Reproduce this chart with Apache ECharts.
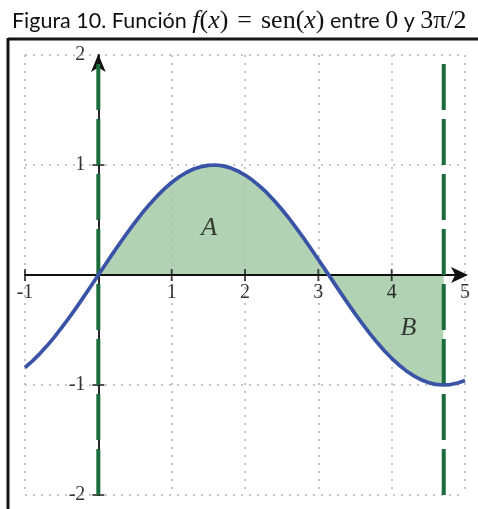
<!DOCTYPE html>
<html>
<head>
<meta charset="utf-8">
<script src="https://cdn.jsdelivr.net/npm/echarts@6/dist/echarts.min.js"></script>
<style>
  html, body { margin: 0; padding: 0; background: #fff; }
  #chart { width: 478px; height: 509px; }
</style>
</head>
<body>
<div id="chart"></div>
<script>
// f(x) = sen(x), sampled every 0.1 between -1 and 5 (plus the limit 3π/2)
const curveX = [
  -1, -0.9, -0.8, -0.7, -0.6, -0.5, -0.4, -0.3, -0.2, -0.1,
  0, 0.1, 0.2, 0.3, 0.4, 0.5, 0.6, 0.7, 0.8, 0.9,
  1, 1.1, 1.2, 1.3, 1.4, 1.5, 1.6, 1.7, 1.8, 1.9,
  2, 2.1, 2.2, 2.3, 2.4, 2.5, 2.6, 2.7, 2.8, 2.9,
  3, 3.1, 3.2, 3.3, 3.4, 3.5, 3.6, 3.7, 3.8, 3.9,
  4, 4.1, 4.2, 4.3, 4.4, 4.5, 4.6, 4.7, 4.71, 4.8, 4.9, 5
];
const curveY = [
  -0.841, -0.783, -0.717, -0.644, -0.565, -0.479, -0.389, -0.296, -0.199, -0.100,
  0, 0.100, 0.199, 0.296, 0.389, 0.479, 0.565, 0.644, 0.717, 0.783,
  0.841, 0.891, 0.932, 0.964, 0.985, 0.997, 1.000, 0.992, 0.974, 0.946,
  0.909, 0.863, 0.808, 0.746, 0.675, 0.598, 0.516, 0.427, 0.335, 0.239,
  0.141, 0.042, -0.058, -0.158, -0.256, -0.351, -0.443, -0.530, -0.612, -0.688,
  -0.757, -0.818, -0.872, -0.916, -0.952, -0.978, -0.994, -1.000, -1.000, -0.996, -0.982, -0.959
];

// integration limits: 0 and 3π/2
const limits = [0, 4.71];

// axis ticks and their labels
const xTicks = [-1, 1, 2, 3, 4];
const yTicks = [1, -1, -2];
const xTickLabels = [-1, 1, 2, 3, 4, 5];
const yTickLabels = [2, 1, -1, -2];

// region labels
const regionNames = ['A', 'B'];
const regionPos = [[1.51, 0.43], [4.23, -0.48]];

const serif = '"Liberation Serif", "DejaVu Serif", serif';
const sans = 'Lato, "Open Sans", sans-serif';
const ink = '#111111';

const curve = curveX.map((x, i) => [x, curveY[i]]);
const filled = curve.filter(p => p[0] >= limits[0] && p[0] <= limits[1]);

const chart = echarts.init(document.getElementById('chart'), null, { renderer: 'canvas' });

const dotted = { color: '#b5b5b5', width: 1.6, type: [2, 6] };
const mathStyle = { fontFamily: serif, fontSize: 26, fontWeight: 'normal', color: ink };

chart.setOption({
  animation: false,
  backgroundColor: '#ffffff',
  title: {
    left: 7,
    top: 3,
    text: '{s|Figura 10. Función }{i|f}{m|(}{i|x}{m|)}{e|=}{m|sen(}{i|x}{m|)}{s| entre }{m|0}{s| y }{m|3π/2}',
    textStyle: {
      rich: {
        s: { fontFamily: sans, fontSize: 21.5, fontWeight: 'normal', color: ink },
        m: mathStyle,
        e: Object.assign({}, mathStyle, { padding: [0, 9, 0, 9] }),
        i: Object.assign({}, mathStyle, { fontStyle: 'italic' })
      }
    }
  },
  graphic: [
    { type: 'line', z: 10, shape: { x1: 8, y1: 39, x2: 478, y2: 39 }, style: { stroke: '#151515', lineWidth: 3 } },
    { type: 'line', z: 10, shape: { x1: 8, y1: 38, x2: 8, y2: 509 }, style: { stroke: '#151515', lineWidth: 3 } }
  ],
  grid: { left: 25, right: 13, top: 55, bottom: 14, containLabel: false, outerBoundsMode: 'none' },
  xAxis: {
    type: 'value',
    min: -1, max: 5, interval: 1,
    z: 1,
    axisLine: {
      onZero: true,
      symbol: ['none', 'arrow'],
      symbolSize: [12, 17],
      symbolOffset: [0, 3],
      lineStyle: { color: '#111', width: 1.8 }
    },
    axisTick: { show: false },
    axisLabel: { show: false },
    splitLine: { show: true, lineStyle: dotted }
  },
  yAxis: {
    type: 'value',
    min: -2, max: 2, interval: 1,
    z: 1,
    axisLine: {
      onZero: true,
      symbol: ['none', 'arrow'],
      symbolSize: [11, 18],
      symbolOffset: [0, 1],
      lineStyle: { color: '#111', width: 1.8 }
    },
    axisTick: { show: false },
    axisLabel: { show: false },
    splitLine: { show: true, lineStyle: dotted }
  },
  series: [
    {
      name: 'area',
      type: 'line',
      z: 0,
      data: filled,
      symbol: 'none',
      lineStyle: { width: 0, opacity: 0 },
      areaStyle: { color: '#b2d3b3', opacity: 1 },
      silent: true
    },
    {
      name: 'ticks-x',
      type: 'scatter',
      z: 2,
      data: xTicks.map(x => [x, 0]),
      symbol: 'rect',
      symbolSize: [1.8, 12],
      itemStyle: { color: '#111' },
      silent: true
    },
    {
      name: 'ticks-y',
      type: 'scatter',
      z: 2,
      data: yTicks.map(y => [0, y]),
      symbol: 'rect',
      symbolSize: [12, 1.8],
      itemStyle: { color: '#111' },
      silent: true
    },
    {
      name: 'labels-x',
      type: 'scatter',
      z: 6,
      data: xTickLabels.map(v => [v, 0]),
      symbolSize: 0,
      label: {
        show: true, position: 'bottom', distance: 8,
        formatter: p => String(p.value[0]),
        fontFamily: serif, fontSize: 20, color: '#000'
      },
      silent: true
    },
    {
      name: 'labels-y',
      type: 'scatter',
      z: 6,
      data: yTickLabels.map(v => [0, v]),
      symbolSize: 0,
      label: {
        show: true, position: 'left', distance: 13,
        formatter: p => String(p.value[1]),
        fontFamily: serif, fontSize: 20, color: '#000'
      },
      silent: true
    },
    {
      name: 'sen(x)',
      type: 'line',
      z: 4,
      data: curve,
      symbol: 'none',
      lineStyle: { color: '#3953a7', width: 3.7, join: 'round' },
      silent: true
    },
    {
      name: 'x = 0',
      type: 'line',
      z: 3,
      data: [[limits[0], -2], [limits[0], 2]],
      symbol: 'none',
      lineStyle: { color: '#1b6b3c', width: 4, type: [46, 9] },
      silent: true
    },
    {
      name: 'x = 3π/2',
      type: 'line',
      z: 3,
      data: [[limits[1], -2], [limits[1], 2]],
      symbol: 'none',
      lineStyle: { color: '#1b6b3c', width: 4, type: [46, 9] },
      silent: true
    },
    {
      name: 'regions',
      type: 'scatter',
      z: 5,
      data: regionPos.map((p, i) => ({ value: p, name: regionNames[i] })),
      symbolSize: 0,
      label: {
        show: true,
        position: 'inside',
        formatter: p => p.name,
        fontFamily: serif, fontStyle: 'italic', fontSize: 26, color: ink
      },
      silent: true
    }
  ]
});
</script>
</body>
</html>
